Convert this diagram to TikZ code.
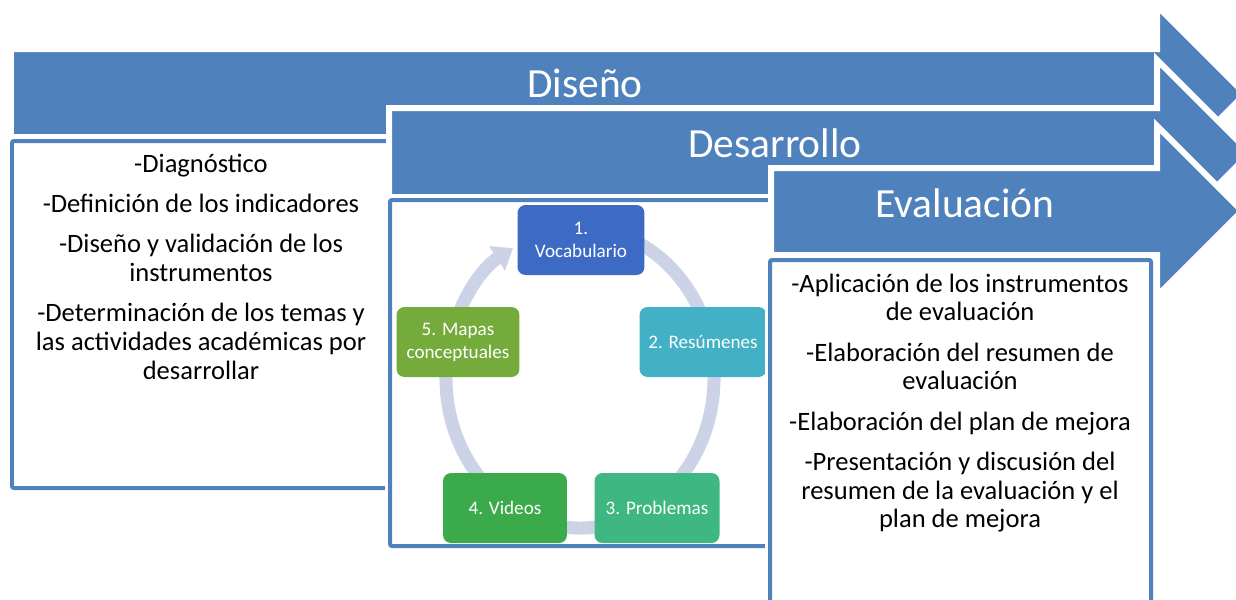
\documentclass[tikz,border=0pt]{standalone}
\usepackage{fontspec}
\setmainfont{Carlito}
\usetikzlibrary{arrows.meta}
\definecolor{phaseblue}{RGB}{79,129,189}
\definecolor{ringgray}{RGB}{205,211,231}
\definecolor{cycA}{RGB}{61,107,196}
\definecolor{cycB}{RGB}{66,176,197}
\definecolor{cycC}{RGB}{62,183,131}
\definecolor{cycD}{RGB}{58,170,74}
\definecolor{cycE}{RGB}{117,171,59}
\begin{document}
\begin{tikzpicture}[
  x=0.02cm, y=-0.02cm,
  phase/.style={fill=phaseblue, draw=white, line width=0.12cm},
  frame/.style={draw=phaseblue, fill=white, line width=0.08cm, rounded corners=0.04cm,
    preaction={draw=white, line width=0.2cm}},
  phaselabel/.style={text=white, inner sep=0pt, anchor=base, font=\fontsize{23.6pt}{28pt}\selectfont},
  itemtext/.style={inner sep=0pt, anchor=base, text width=7.2cm, align=flush center,
    font=\fontsize{15.1pt}{16.4pt}\selectfont},
  stage/.style={rounded corners=0.16cm, minimum width=2.5cm, minimum height=1.4cm, inner sep=1pt,
    text=white, align=center, font=\fontsize{10.9pt}{13pt}\selectfont},
  ring/.style={draw=ringgray, line width=0.26cm, -{Triangle[width=0.56cm, length=0.38cm]}}
]
\useasboundingbox (0,0) rectangle (1236,599);
\clip (0,0) rectangle (1236,599);

\path[phase] (11,49) -- (1157,49) -- (1157,6) -- (1245,94) -- (1157,182) -- (1157,137) -- (11,137) -- cycle;
\node[phaselabel] (disenoLbl) at (585,97) {Diseño};
\draw[frame] (12,141) rectangle (430,488);
\node[itemtext] (disenoTxt) at (201,172) {-Diagnóstico\\[6.5pt]
  -Definición de los indicadores\\[6.5pt]
  -Diseño y validación de los\\ instrumentos\\[6.5pt]
  -Determinación de los temas y\\ las actividades académicas por\\ desarrollar};

\path[phase] (389,108) -- (1157,108) -- (1157,60) -- (1250,153) -- (1157,246) -- (1157,197) -- (389,197) -- cycle;
\node[phaselabel] (desarrolloLbl) at (775,157) {Desarrollo};
\draw[frame] (390,200) rectangle (820,546);
\draw[ring] (580,378) ++(-80:134 and 150) arc[start angle=-80, end angle=240, x radius=134, y radius=150];
\node[stage, fill=cycA, minimum width=2.54cm] (vocab) at (581,240) {1.\\Vocabulario};
\node[stage, fill=cycB, minimum width=2.54cm] (resum) at (703,342) {2. Resúmenes};
\node[stage, fill=cycC] (probl) at (657,508) {3. Problemas};
\node[stage, fill=cycD, minimum width=2.48cm] (video) at (505,508) {4. Videos};
\node[stage, fill=cycE, minimum width=2.46cm] (mapas) at (458,342) {5. Mapas\\conceptuales};

\path[phase] (771,168) -- (1157,168) -- (1157,126) -- (1242,211) -- (1157,296) -- (1157,255) -- (771,255) -- cycle;
\node[phaselabel] (evaluacionLbl) at (965,217) {Evaluación};
\draw[frame] (770,260) rectangle (1151,640);
\node[itemtext] (evaluacionTxt) at (960,292) {-Aplicación de los instrumentos\\ de evaluación\\[6.5pt]
  -Elaboración del resumen de\\ evaluación\\[6.5pt]
  -Elaboración del plan de mejora\\[6.5pt]
  -Presentación y discusión del\\ resumen de la evaluación y el\\ plan de mejora};
\end{tikzpicture}
\end{document}
